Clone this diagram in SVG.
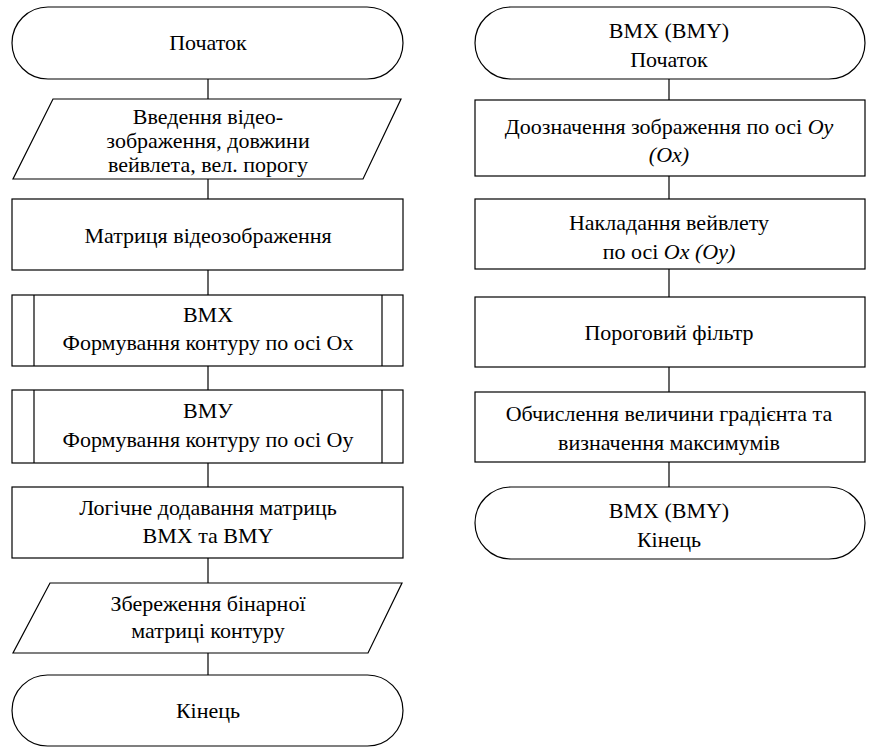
<svg xmlns="http://www.w3.org/2000/svg" width="870" height="747" viewBox="0 0 870 747">
<style>
.s{fill:#fff;stroke:#000;stroke-width:1.2}
.c{fill:none;stroke:#000;stroke-width:1.2}
.t{font-family:'Liberation Serif','Times New Roman',serif;font-size:22px;fill:#000;text-anchor:middle}
.i{font-style:italic}
</style>
<rect width="870" height="747" fill="#fff"/>
<g id="connectors">
<line class="c" x1="208" y1="79" x2="208" y2="99"/>
<line class="c" x1="208" y1="179" x2="208" y2="199"/>
<line class="c" x1="208" y1="270" x2="208" y2="295"/>
<line class="c" x1="208" y1="366" x2="208" y2="390"/>
<line class="c" x1="208" y1="463" x2="208" y2="487"/>
<line class="c" x1="208" y1="558" x2="208" y2="583"/>
<line class="c" x1="208" y1="653" x2="208" y2="675"/>
<line class="c" x1="669" y1="79" x2="669" y2="100"/>
<line class="c" x1="669" y1="176" x2="669" y2="199"/>
<line class="c" x1="669" y1="269" x2="669" y2="297"/>
<line class="c" x1="669" y1="367" x2="669" y2="392"/>
<line class="c" x1="669" y1="462" x2="669" y2="487"/>
</g>
<g class="t">
<g id="start">
<rect class="s" x="12" y="7" width="391" height="72" rx="36"/>
<text x="208" y="50">Початок</text>
</g>
<g id="input">
<polygon class="s" points="53,99 401,99 363,179 13,179"/>
<text x="208" y="124">Введення  відео-</text>
<text x="208" y="148">зображення, довжини</text>
<text x="208" y="172">вейвлета, вел. порогу</text>
</g>
<g id="matrix">
<rect class="s" x="12" y="199" width="391" height="71"/>
<text x="208" y="243">Матриця відеозображення</text>
</g>
<g id="bmx">
<rect class="s" x="12" y="295" width="391" height="71"/>
<line class="c" x1="34" y1="295" x2="34" y2="366"/>
<line class="c" x1="382" y1="295" x2="382" y2="366"/>
<text x="208" y="322">ВМХ</text>
<text x="208" y="350">Формування контуру по осі Ох</text>
</g>
<g id="bmy">
<rect class="s" x="12" y="390" width="391" height="73"/>
<line class="c" x1="34" y1="390" x2="34" y2="463"/>
<line class="c" x1="382" y1="390" x2="382" y2="463"/>
<text x="208" y="418">ВМУ</text>
<text x="208" y="447">Формування контуру по осі Оу</text>
</g>
<g id="logic">
<rect class="s" x="12" y="487" width="391" height="71"/>
<text x="208" y="515">Логічне додавання матриць</text>
<text x="208" y="543">ВМХ та ВМY</text>
</g>
<g id="save">
<polygon class="s" points="50,583 402,583 368,653 13,653"/>
<text x="208" y="611">Збереження бінарної</text>
<text x="208" y="638">матриці контуру</text>
</g>
<g id="end">
<rect class="s" x="12" y="675" width="391" height="71" rx="35.5"/>
<text x="208" y="718">Кінець</text>
</g>
<g id="sub-start">
<rect class="s" x="475" y="7" width="390" height="72" rx="36"/>
<text x="669" y="38">ВМХ (ВМY)</text>
<text x="669" y="67">Початок</text>
</g>
<g id="extend">
<rect class="s" x="475" y="100" width="390" height="76"/>
<text x="669" y="134">Доозначення зображення по осі <tspan class="i">Oy</tspan></text>
<text x="669" y="162" class="i">(Ox)</text>
</g>
<g id="wavelet">
<rect class="s" x="475" y="199" width="390" height="70"/>
<text x="669" y="230">Накладання вейвлету</text>
<text x="669" y="259">по осі <tspan class="i">Ox (Oy)</tspan></text>
</g>
<g id="threshold">
<rect class="s" x="475" y="297" width="390" height="70"/>
<text x="669" y="340">Пороговий фільтр</text>
</g>
<g id="gradient">
<rect class="s" x="475" y="392" width="390" height="70"/>
<text x="669" y="421">Обчислення величини градієнта та</text>
<text x="669" y="450">визначення максимумів</text>
</g>
<g id="sub-end">
<rect class="s" x="475" y="487" width="390" height="72" rx="36"/>
<text x="669" y="518">ВМХ (ВМY)</text>
<text x="669" y="547">Кінець</text>
</g>
</g>
</svg>
